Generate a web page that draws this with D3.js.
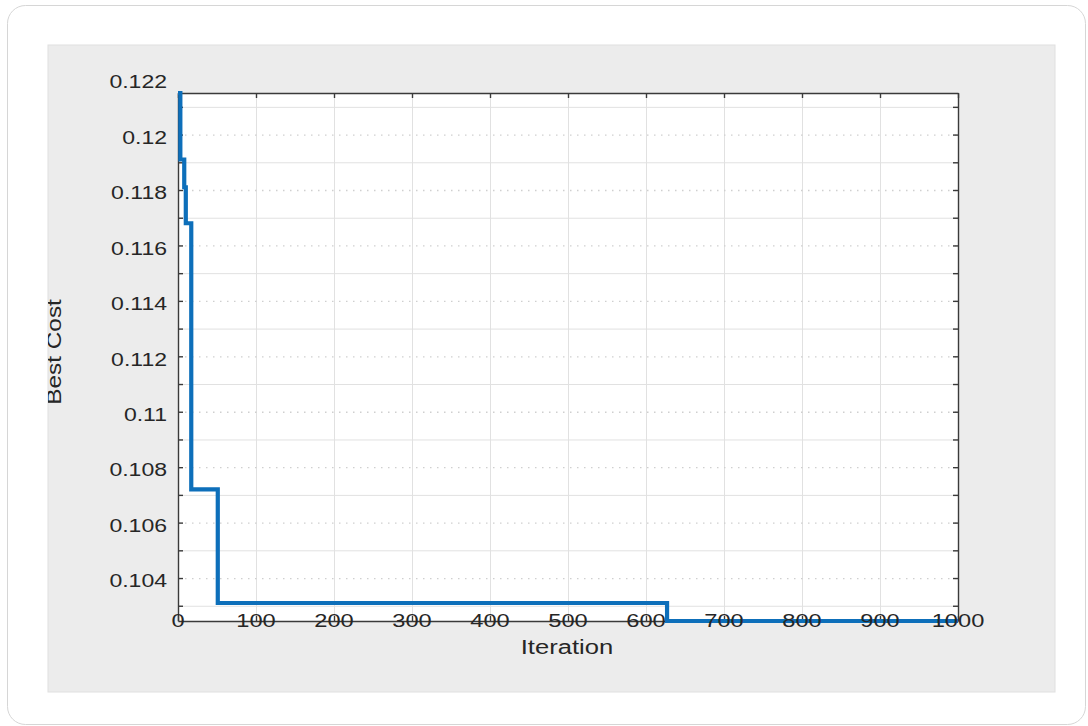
<!DOCTYPE html>
<html>
<head>
<meta charset="utf-8">
<script src="https://cdn.jsdelivr.net/npm/d3@7"></script>
<style>
  body { margin: 0; background: #ffffff; }
  svg { display: block; font-family: "Liberation Sans", Arial, sans-serif; }
</style>
</head>
<body>
<script>
// step changes of the best cost (iteration where a new best was found)
const iterations = [0, 3, 8, 10, 17, 51, 627, 1000];
const bestCost = [0.1215, 0.1191, 0.1181, 0.1168, 0.1072, 0.1031, 0.10245, 0.10245];

// tick values
const xTicks = [0, 100, 200, 300, 400, 500, 600, 700, 800, 900, 1000];
const yLabelTicks = [0.104, 0.106, 0.108, 0.11, 0.112, 0.114, 0.116, 0.118, 0.12, 0.122];
const yPlainTicks = [0.103, 0.105, 0.107, 0.109, 0.111, 0.113, 0.115, 0.117, 0.119, 0.121];

const xDomain = [0, 1000];
const yDomain = [0.10245, 0.1215];

let width = 1088,
  height = 726;

let plot = { left: 178, right: 958, top: 93, bottom: 621 }; // axes box
let stretch = 1.28; // text in the screenshot is wider than it is tall

let svg = d3.select('body').append('svg')
  .attr('width', width)
  .attr('height', height);

// outer rounded card
svg.append('rect')
  .attr('x', 7.5).attr('y', 5.5)
  .attr('width', 1078).attr('height', 719)
  .attr('rx', 18)
  .style('fill', '#ffffff')
  .style('stroke', '#d6d6d6');

// grey figure panel
svg.append('rect')
  .attr('x', 48).attr('y', 45)
  .attr('width', 1007).attr('height', 647)
  .style('fill', '#ececec')
  .style('stroke', '#e0e0e0');

svg.append('clipPath').attr('id', 'panel')
  .append('rect')
  .attr('x', 48).attr('y', 45)
  .attr('width', 1007).attr('height', 647);

let x = d3.scaleLinear().domain(xDomain).range([plot.left, plot.right]);
let y = d3.scaleLinear().domain(yDomain).range([plot.bottom, plot.top]);

// white axes area
svg.append('rect')
  .attr('x', plot.left).attr('y', plot.top)
  .attr('width', plot.right - plot.left)
  .attr('height', plot.bottom - plot.top)
  .style('fill', '#ffffff');

let plotW = plot.right - plot.left,
  plotH = plot.bottom - plot.top;

// vertical grid
let xGrid = svg.append('g')
  .attr('transform', 'translate(0,' + plot.bottom + ')')
  .call(d3.axisBottom(x).tickValues(xTicks).tickSize(-plotH).tickFormat(''));
xGrid.select('.domain').remove();
xGrid.selectAll('line').style('stroke', '#e1e1e1').style('stroke-width', 1);

// solid horizontal grid
let yGrid = svg.append('g')
  .attr('transform', 'translate(' + plot.left + ',0)')
  .call(d3.axisLeft(y).tickValues(yPlainTicks).tickSize(-plotW).tickFormat(''));
yGrid.select('.domain').remove();
yGrid.selectAll('line').style('stroke', '#e1e1e1').style('stroke-width', 1);

// dotted horizontal grid
let yDots = svg.append('g')
  .attr('transform', 'translate(' + plot.left + ',0)')
  .call(d3.axisLeft(y).tickValues(yLabelTicks.filter(d => d < yDomain[1])).tickSize(-plotW).tickFormat(''));
yDots.select('.domain').remove();
yDots.selectAll('line')
  .style('stroke', '#cfcfcf')
  .style('stroke-width', 1.3)
  .style('stroke-dasharray', '1.5,5.5');

let axisColor = '#3a3a3a';
let allYTicks = yLabelTicks.concat(yPlainTicks).filter(d => d <= yDomain[1]);

// left axis with inward ticks
let yAxis = svg.append('g')
  .attr('transform', 'translate(' + plot.left + ',0)')
  .call(d3.axisLeft(y).tickValues(allYTicks).tickSizeInner(-5).tickSizeOuter(0).tickFormat(''));
yAxis.selectAll('line, path').style('stroke', axisColor).style('stroke-width', 1.4);

// right axis
let yAxisR = svg.append('g')
  .attr('transform', 'translate(' + plot.right + ',0)')
  .call(d3.axisRight(y).tickValues(allYTicks).tickSizeInner(-5).tickSizeOuter(0).tickFormat(''));
yAxisR.selectAll('line, path').style('stroke', axisColor).style('stroke-width', 1.4);

// top axis
let xAxisT = svg.append('g')
  .attr('transform', 'translate(0,' + plot.top + ')')
  .call(d3.axisTop(x).tickValues(xTicks).tickSizeInner(-5).tickSizeOuter(0).tickFormat(''));
xAxisT.selectAll('line, path').style('stroke', axisColor).style('stroke-width', 1.4);

// bottom axis
let xAxis = svg.append('g')
  .attr('transform', 'translate(0,' + plot.bottom + ')')
  .call(d3.axisBottom(x).tickValues(xTicks).tickSizeInner(-5).tickSizeOuter(0).tickFormat(''));
xAxis.selectAll('line, path').style('stroke', axisColor).style('stroke-width', 1.4);

// best cost curve
let line = d3.line()
  .x((d, i) => x(iterations[i]))
  .y(d => y(d))
  .curve(d3.curveStepAfter);

svg.append('path')
  .datum(bestCost)
  .attr('d', line)
  .style('fill', 'none')
  .style('stroke', '#0d6fba')
  .style('stroke-width', 4.2)
  .style('stroke-linejoin', 'miter');

// y tick labels
svg.append('g').selectAll('text')
  .data(yLabelTicks)
  .enter()
  .append('text')
  .attr('transform', d => 'translate(' + (plot.left - 11) + ',' + (y(d) + 3) + ') scale(' + stretch + ',1)')
  .attr('dy', '0.35em')
  .attr('text-anchor', 'end')
  .style('font-size', '18px')
  .style('fill', '#262626')
  .text(d => String(d));

// x tick labels sit on the axis line
svg.append('g').selectAll('text')
  .data(xTicks)
  .enter()
  .append('text')
  .attr('transform', d => 'translate(' + x(d) + ',' + plot.bottom + ') scale(' + stretch + ',1)')
  .attr('dy', '0.35em')
  .attr('text-anchor', 'middle')
  .style('font-size', '18.5px')
  .style('fill', '#262626')
  .text(d => String(d));

// axis titles
svg.append('text')
  .attr('transform', 'translate(567,654) scale(' + stretch + ',1)')
  .attr('text-anchor', 'middle')
  .style('font-size', '20px')
  .style('fill', '#262626')
  .text('Iteration');

svg.append('g')
  .attr('clip-path', 'url(#panel)')
  .append('text')
  .attr('transform', 'translate(61,352) rotate(-90) scale(1.22,1)')
  .attr('text-anchor', 'middle')
  .style('font-size', '20px')
  .style('fill', '#262626')
  .text('Best Cost');
</script>
</body>
</html>
